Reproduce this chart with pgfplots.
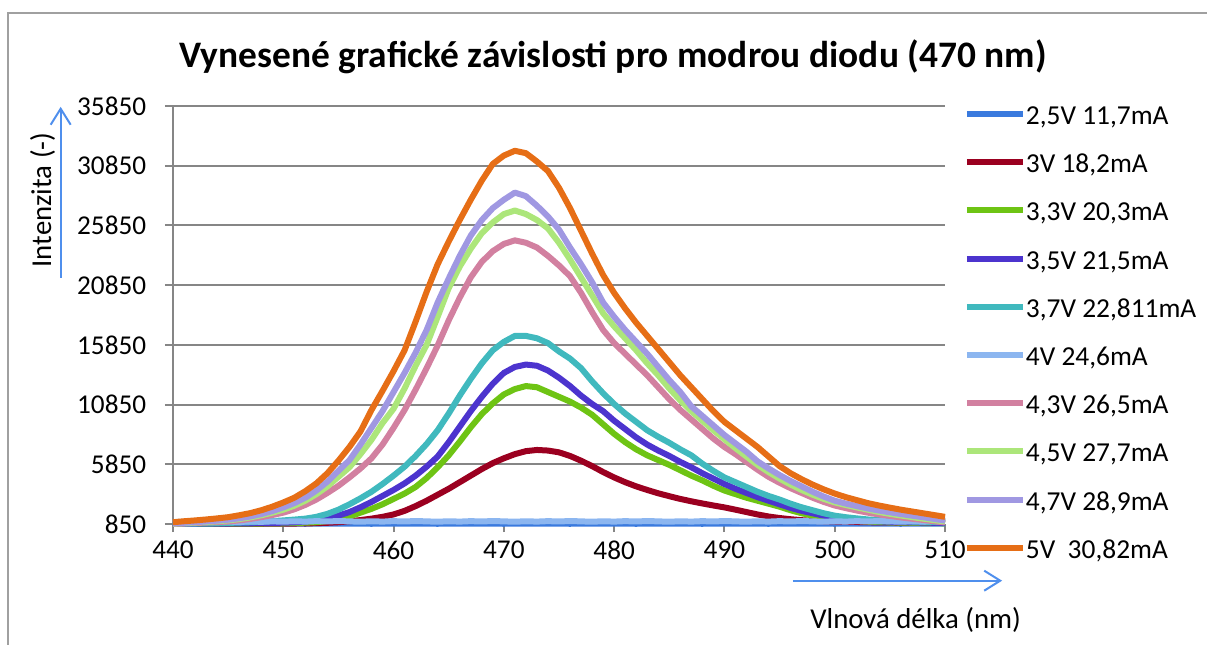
\documentclass[border=0pt]{standalone}
\usepackage{fontspec}
\setmainfont{Carlito}
\usepackage{pgfplots}
\pgfplotsset{compat=1.18}
\usepackage{pgfplotstable}
\usetikzlibrary{arrows.meta}

\definecolor{cA}{RGB}{58,122,222}
\definecolor{cB}{RGB}{155,0,32}
\definecolor{cC}{RGB}{110,196,20}
\definecolor{cD}{RGB}{76,52,206}
\definecolor{cE}{RGB}{64,185,190}
\definecolor{cF}{RGB}{140,182,240}
\definecolor{cG}{RGB}{210,128,160}
\definecolor{cH}{RGB}{172,230,122}
\definecolor{cI}{RGB}{160,152,226}
\definecolor{cJ}{RGB}{230,110,22}
\definecolor{gridgray}{RGB}{134,134,134}
\definecolor{framegray}{RGB}{160,160,160}
\definecolor{arrowblue}{RGB}{79,143,237}

% x = wavelength (nm); a..j = intensity of the ten series
\pgfplotstableread{
x    a    b     c     d     e     f     g     h     i     j
440  880  850   850   860   870   1010  860   880   900   1000
441  870  852   855   865   880   1030  890   920   950   1080
442  885  855   860   870   890   1000  930   970   1000  1150
443  875  858   865   875   900   1040  970   1020  1060  1230
444  890  860   870   880   920   1010  1010  1080  1130  1320
445  880  862   875   890   940   1050  1060  1150  1210  1420
446  870  865   880   900   970   1020  1150  1260  1330  1580
447  885  868   885   910   1000  1060  1270  1400  1480  1760
448  880  870   890   920   1040  1030  1420  1580  1680  2000
449  875  875   900   940   1090  1070  1600  1800  1930  2300
450  890  880   910   960   1150  1040  1800  2050  2240  2650
451  880  890   930   990   1220  1080  2080  2380  2600  3050
452  870  900   960   1050  1300  1050  2450  2800  3050  3600
453  885  920   1000  1150  1450  1090  2900  3350  3650  4250
454  880  950   1100  1320  1700  1060  3450  4000  4400  5100
455  875  1000  1280  1550  2050  1100  4050  4800  5300  6150
456  890  1080  1480  1850  2500  1070  4750  5600  6200  7300
457  880  1180  1800  2250  3000  1040  5500  6700  7500  8600
458  870  1300  2120  2700  3550  1080  6350  7900  8900  10400
459  885  1450  2500  3200  4200  1050  7500  9300  10300 12000
460  880  1650  2950  3700  4900  1090  8900  10500 11900 13650
461  875  1950  3400  4250  5650  1060  10400 12200 13500 15400
462  890  2350  3950  4900  6550  1100  12100 14100 15200 17800
463  880  2800  4700  5650  7550  1070  13900 15850 17100 20300
464  870  3300  5600  6500  8700  1040  15800 18200 19400 22600
465  885  3800  6600  7700  10100 1080  17900 20600 21400 24500
466  880  4350  7750  9000  11600 1050  19800 22400 23300 26300
467  875  4900  8950  10300 13000 1090  21500 23900 25000 28000
468  890  5450  10050 11500 14300 1060  22800 25200 26300 29600
469  880  5950  10950 12600 15400 1100  23700 26100 27300 31000
470  870  6350  11700 13500 16100 1070  24300 26800 28000 31700
471  885  6700  12150 14000 16600 1040  24600 27100 28600 32100
472  880  6950  12400 14200 16600 1080  24400 26800 28300 31900
473  875  7050  12300 14100 16400 1050  24000 26300 27500 31200
474  890  7000  11900 13700 16000 1090  23300 25600 26600 30400
475  880  6850  11500 13100 15300 1060  22500 24400 25500 29000
476  870  6550  11100 12400 14700 1100  21600 23000 24000 27300
477  885  6150  10600 11600 13900 1070  20200 21500 22600 25400
478  880  5700  10000 10900 12800 1040  18600 20000 21100 23500
479  875  5200  9200  10300 11800 1080  17100 18500 19400 21700
480  890  4750  8400  9500  10900 1050  16000 17400 18200 20200
481  880  4350  7700  8800  10100 1090  15100 16400 17100 18900
482  870  4000  7100  8100  9400  1060  14200 15400 16100 17700
483  885  3700  6600  7500  8700  1100  13300 14300 15100 16600
484  880  3420  6200  7000  8150  1070  12300 13300 14000 15500
485  875  3180  5800  6550  7650  1040  11300 12200 12900 14400
486  890  2950  5350  6050  7100  1080  10400 11200 11900 13300
487  880  2750  4900  5600  6600  1050  9600  10300 10700 12300
488  870  2570  4500  5100  5900  1090  8800  9500  9900  11300
489  885  2400  4050  4650  5300  1060  8000  8700  9100  10300
490  880  2240  3650  4200  4750  1100  7300  7950  8300  9400
491  875  2050  3350  3800  4350  1070  6700  7200  7600  8700
492  890  1850  3050  3450  3950  1040  6050  6500  6900  8000
493  880  1650  2800  3100  3550  1080  5400  5800  6100  7300
494  870  1480  2550  2800  3200  1050  4800  5200  5500  6500
495  885  1350  2300  2500  2900  1090  4300  4650  4950  5700
496  880  1250  2000  2200  2550  1060  3850  4150  4450  5100
497  875  1170  1750  1950  2250  1100  3450  3700  4000  4600
498  890  1110  1550  1750  2000  1070  3050  3300  3550  4150
499  880  1080  1380  1550  1750  1040  2700  2950  3150  3750
500  870  1060  1260  1400  1550  1080  2400  2660  2800  3400
501  885  1040  1180  1280  1420  1050  2180  2440  2560  3100
502  880  1020  1110  1190  1320  1090  1980  2240  2350  2850
503  875  1000  1060  1120  1230  1060  1800  2050  2150  2600
504  890  990   1020  1070  1170  1100  1650  1860  1980  2400
505  880  980   990   1040  1130  1070  1530  1700  1830  2220
506  870  970   970   1010  1090  1040  1400  1560  1680  2050
507  885  960   950   990   1060  1080  1290  1430  1550  1900
508  880  955   930   970   1040  1050  1190  1300  1420  1750
509  875  950   920   950   1020  1090  1080  1180  1280  1600
510  890  945   910   940   1000  1060  980   1060  1140  1450
}\spectra

\begin{document}
\begin{tikzpicture}
\useasboundingbox (0,0) rectangle (603.5pt,322pt);
\draw[framegray, line width=1.2pt] (4pt,-5pt) -- (4pt,315.5pt) -- (610pt,315.5pt);
\node[font=\bfseries\fontsize{18.7}{22}\selectfont] at (306.5pt,293.5pt)
  {Vynesené grafické závislosti pro modrou diodu (470 nm)};
\begin{axis}[
  at={(86.5pt,60pt)}, anchor=south west,
  scale only axis, width=386pt, height=209pt,
  xmin=440, xmax=510, ymin=850, ymax=35850,
  xtick={440,450,...,510}, ytick={850,5850,...,35850},
  scaled x ticks=false, scaled y ticks=false,
  axis x line*=bottom, axis y line*=left,
  axis line style={gridgray, line width=1pt},
  ymajorgrids, grid style={gridgray, line width=1pt},
  tick align=outside, major tick length=4pt,
  tick style={gridgray, line width=1pt},
  ticklabel style={font=\fontsize{13.6}{16}\selectfont, text=black},
  yticklabel style={xshift=-5.9pt},
  xticklabel style={yshift=-1pt},
  /pgf/number format/assume math mode=true,
  /pgf/number format/1000 sep={},
  clip=false,
  ylabel={Intenzita (-)},
  ylabel style={at={(rel axis cs:-0.169,0.775)}, anchor=center, font=\fontsize{14.4}{17}\selectfont},
  xlabel={Vlnová délka (nm)},
  xlabel style={at={(rel axis cs:0.962,-0.230)}, anchor=center, font=\fontsize{14.4}{17}\selectfont},
  legend cell align=left,
  legend style={at={(rel axis cs:1.024,1.0)}, anchor=north west, draw=none, fill=none,
    font=\fontsize{13.7}{16}\selectfont, row sep=12.1pt, inner sep=0pt,
    nodes={inner sep=0pt, text height=9pt, text depth=3pt}},
  legend image code/.code={\draw[line width=3pt] (0pt,2.2pt) -- (28pt,2.2pt);},
  every axis plot/.append style={line width=3pt, line join=round, no markers},
]
\addplot[cA] table[x=x, y=a] {\spectra};
\addlegendentry{2,5V 11,7mA}
\addplot[cB] table[x=x, y=b] {\spectra};
\addlegendentry{3V 18,2mA}
\addplot[cC] table[x=x, y=c] {\spectra};
\addlegendentry{3,3V 20,3mA}
\addplot[cD] table[x=x, y=d] {\spectra};
\addlegendentry{3,5V 21,5mA}
\addplot[cE] table[x=x, y=e] {\spectra};
\addlegendentry{3,7V 22,811mA}
\addplot[cF] table[x=x, y=f] {\spectra};
\addlegendentry{4V 24,6mA}
\addplot[cG] table[x=x, y=g] {\spectra};
\addlegendentry{4,3V 26,5mA}
\addplot[cH] table[x=x, y=h] {\spectra};
\addlegendentry{4,5V 27,7mA}
\addplot[cI] table[x=x, y=i] {\spectra};
\addlegendentry{4,7V 28,9mA}
\addplot[cJ] table[x=x, y=j] {\spectra};
\addlegendentry{5V\ \ 30,82mA}
\draw[arrowblue, line width=1pt, -{Straight Barb[length=8pt,width=10pt]}]
  (rel axis cs:-0.1455,0.589) -- (rel axis cs:-0.1455,0.998);
\draw[arrowblue, line width=1pt, -{Straight Barb[length=8pt,width=10pt]}]
  (rel axis cs:0.803,-0.1356) -- (rel axis cs:1.074,-0.1356);
\end{axis}
\end{tikzpicture}
\end{document}
